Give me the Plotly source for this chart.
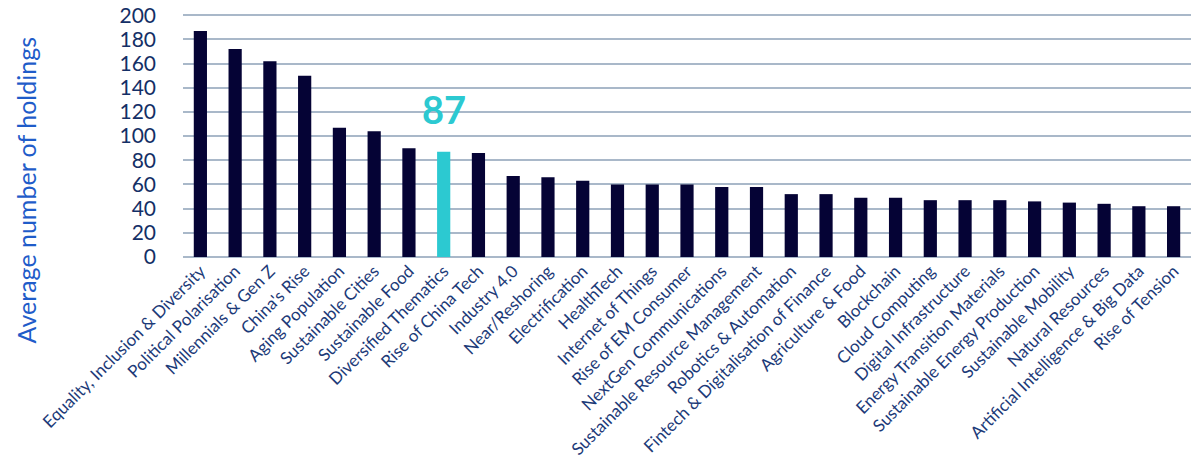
import plotly.graph_objects as go

themes = [
    "Equality, Inclusion & Diversity", "Political Polarisation", "Millennials & Gen Z",
    "China's Rise", "Aging Population", "Sustainable Cities", "Sustainable Food",
    "Diversified Thematics", "Rise of China Tech", "Industry 4.0", "Near/Reshoring",
    "Electrification", "HealthTech", "Internet of Things", "Rise of EM Consumer",
    "NextGen Communications", "Sustainable Resource Management", "Robotics & Automation",
    "Fintech & Digitalisation of Finance", "Agriculture & Food", "Blockchain",
    "Cloud Computing", "Digital Infrastructure", "Energy Transition Materials",
    "Sustainable Energy Production", "Sustainable Mobility", "Natural Resources",
    "Artificial Intelligence & Big Data", "Rise of Tension",
]
holdings = [187, 172, 162, 150, 107, 104, 90, 87, 86, 67, 66, 63, 60, 60, 60,
            58, 58, 52, 52, 49, 49, 47, 47, 47, 46, 45, 44, 42, 42]
highlight = "Diversified Thematics"

NAVY = "#050335"
TEAL = "#2cc9d1"
colors = [TEAL if t == highlight else NAVY for t in themes]

fig = go.Figure(go.Bar(x=themes, y=holdings, marker_color=colors,
                       marker_line_width=0, width=0.38))

fig.add_annotation(x=highlight, y=holdings[themes.index(highlight)],
                   text="<b>87</b>", showarrow=False, yanchor="bottom", yshift=18,
                   font=dict(family="Lato", size=38, color=TEAL))

fig.add_annotation(text="Average number of holdings", textangle=-90,
                   xref="paper", yref="paper", x=-0.156, y=0.273,
                   xanchor="center", yanchor="middle", showarrow=False,
                   font=dict(family="Lato", size=25, color="#1f5cc9"))

# page body has an 8px margin, so margins are offset to land where the reference has them
fig.update_layout(
    width=1200, height=476,
    margin=dict(l=175, r=17, t=6, b=227),
    plot_bgcolor="white", paper_bgcolor="white",
    showlegend=False,
    font=dict(family="Lato", color="#142f66"),
    xaxis=dict(tickangle=-45, tickfont=dict(size=17, color="#1c3a78"),
               showgrid=False, showline=False, ticks="", automargin=False),
    yaxis=dict(range=[0, 201], tickvals=list(range(0, 201, 20)),
               tickfont=dict(size=21, color="#142f66"), ticklabeloverflow="allow",
               showgrid=True, gridcolor="#a9b8c9", gridwidth=2,
               zeroline=True, zerolinecolor="#a9b8c9", zerolinewidth=2,
               ticks="", ticklabelstandoff=26, automargin=False),
)

fig.write_html("out.html")
